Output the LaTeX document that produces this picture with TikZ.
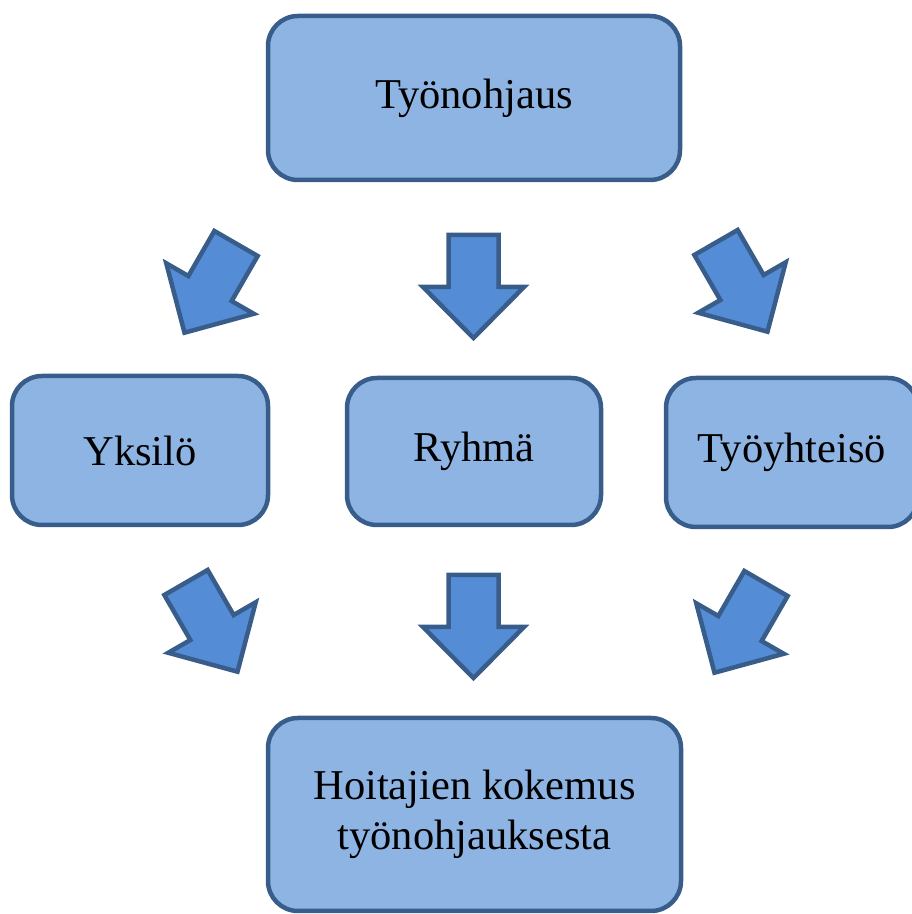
\documentclass[tikz,border=0pt]{standalone}
\usepackage{fontspec}
\setmainfont{Liberation Serif}
\definecolor{boxfill}{RGB}{142,180,227}
\definecolor{boxline}{RGB}{56,93,138}
\definecolor{arrowfill}{RGB}{84,141,213}
\tikzset{
  stagebox/.style = {draw=boxline, fill=boxfill, line width=4.5pt,
    rounded corners=30pt, align=center, inner sep=0pt,
    font=\fontsize{42.5}{50}\selectfont},
  bigarrow/.pic = {
    \draw[draw=boxline, fill=arrowfill, line width=4.5pt, line join=miter]
      (-25,0) -- (-25,-52) -- (-50.5,-52) -- (0,-103) -- (50.5,-52)
      -- (25,-52) -- (25,0) -- cycle;
  },
}
\begin{document}
\begin{tikzpicture}[x=1pt,y=1pt]
\useasboundingbox (0,0) rectangle (912,914);
% boxes
\node [stagebox, minimum width=412, minimum height=164] (ohjaus) at (474,816) {Työnohjaus};
\node [stagebox, minimum width=256, minimum height=149] (yksilo) at (140,463.5) {Yksilö};
\node [stagebox, minimum width=254, minimum height=147] (ryhma) at (474,462.5) {Ryhmä};
\node [stagebox, minimum width=252, minimum height=149] (yhteiso) at (792,461.5) {Työyhteisö};
\node [stagebox, minimum width=413, minimum height=193] (kokemus) at (474.5,99.5) {Hoitajien kokemus\\työnohjauksesta};
% arrows
\pic [rotate=-30] at (236,670.5) {bigarrow};
\pic at (473.5,679) {bigarrow};
\pic [rotate=30] at (716,671.5) {bigarrow};
\pic [rotate=30] at (186,331.5) {bigarrow};
\pic at (473.5,339) {bigarrow};
\pic [rotate=-30] at (766,330.5) {bigarrow};
\end{tikzpicture}
\end{document}
